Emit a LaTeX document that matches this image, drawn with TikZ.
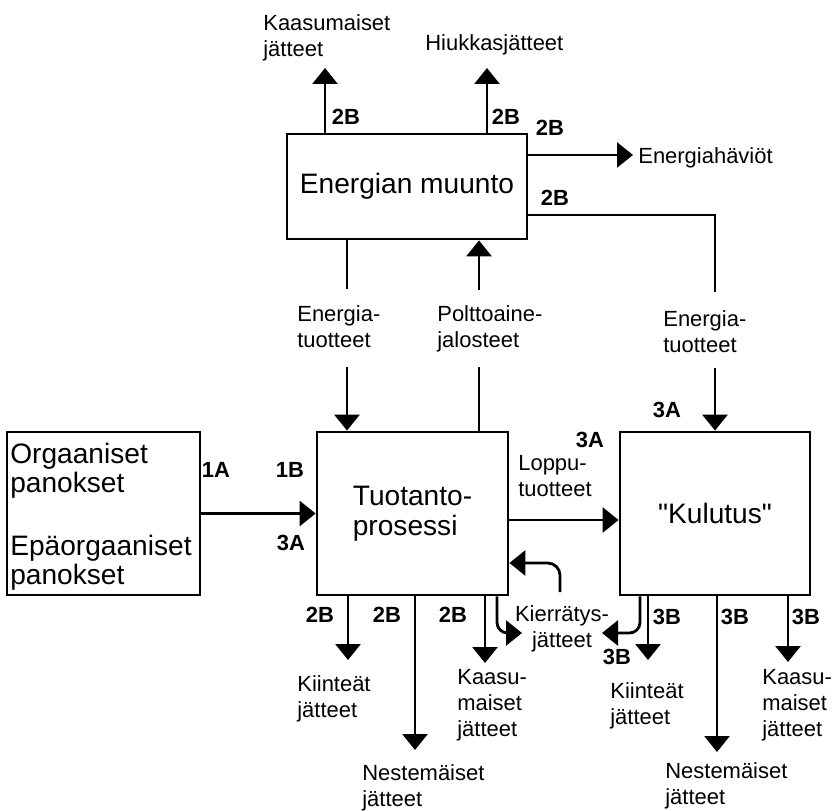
\documentclass[tikz,border=0pt]{standalone}
\usepackage{fontspec}
\setmainfont{Liberation Sans}[Ligatures=TeXOff]
\usetikzlibrary{arrows.meta,positioning}

\tikzset{
  box/.style={draw, line width=1.6pt, inner sep=0pt, align=left, font=\fontsize{16}{17}\selectfont},
  lbl/.style={inner sep=0pt, anchor=north west, align=left, font=\fontsize{12.5}{14.8}\selectfont},
  code/.style={inner sep=0pt, font=\fontsize{12.5}{15}\selectfont\bfseries},
  ln/.style={line width=1.6pt},
  arr/.style={line width=1.6pt, -{Triangle[width=0.5cm,length=0.32cm]}}
}

\begin{document}
\begin{tikzpicture}[x=0.02cm, y=-0.02cm]
    \useasboundingbox (0,0) rectangle (837,810);

    % boxes
    \node[box, minimum width=4.8cm, minimum height=2.1cm] (muunto) at (407,186.5) {Energian muunto};
    \node[box, minimum width=3.86cm, minimum height=3.26cm] (panokset) at (103.5,513.5) {};
    \node[box, minimum width=3.82cm, minimum height=3.26cm] (tuotanto) at (412.5,513.5) {Tuotanto-\\prosessi};
    \node[box, minimum width=3.8cm, minimum height=3.26cm] (kulutus) at (715,513.5) {"Kulutus"};

    \node[lbl, font=\fontsize{16}{16.5}\selectfont] (org) at (10,443) {Orgaaniset\\panokset};
    \node[lbl, font=\fontsize{16}{16.5}\selectfont] (epaorg) at (10,535) {Epäorgaaniset\\panokset};

    % free ends
    \coordinate (kaasu) at (325,68);
    \coordinate (hiukk) at (487,68);
    \coordinate (havio) at (633,155);
    \coordinate (eR0) at (715,215);
    \coordinate (eR1) at (715,292);
    \coordinate (eR2) at (715,368);
    \coordinate (eL1) at (347,289);
    \coordinate (eL2) at (347,367);
    \coordinate (pA) at (479,290);
    \coordinate (pB) at (479,367);
    \coordinate (lp) at (0,520);
    \coordinate (rk) at (560,592);
    \coordinate (rk2) at (560,563);
    \coordinate (kla) at (497,633);
    \coordinate (kl) at (522,633);
    \coordinate (kra) at (640,633);
    \coordinate (kr) at (602,633);

    % energy conversion
    \draw[arr] (muunto.north -| kaasu) -- (kaasu);
    \draw[arr] (muunto.north -| hiukk) -- (hiukk);
    \draw[arr] (muunto.east |- havio) -- (havio);
    \draw[ln] (muunto.east |- eR0) -| (eR1);
    \draw[arr] (eR2) -- (kulutus.north);
    \draw[ln] (muunto.south -| eL1) -- (eL1);
    \draw[arr] (eL2) -- (tuotanto.north -| eL2);
    \draw[ln] (tuotanto.north -| pB) -- (pB);
    \draw[arr] (pA) -- (muunto.south -| pA);

    % main flow
    \draw[arr] (panokset.east) -- (tuotanto.west);
    \draw[arr] (tuotanto.east |- lp) -- (kulutus.west |- lp);

    % recycling
    \draw[arr, rounded corners=7pt] (rk) |- (tuotanto.east |- rk2);
    \draw[arr, rounded corners=6pt] (tuotanto.south -| kla) -- (kla) -- (kl);
    \draw[arr, rounded corners=6pt] (kulutus.south -| kra) -- (kra) -- (kr);

    % wastes
    \foreach \x/\y/\n in {348/660/tk, 415/750/tn, 485/663/tg} {
        \coordinate (\n) at (\x,\y);
        \draw[arr] (tuotanto.south -| \n) -- (\n);
    }
    \foreach \x/\y/\n in {648/660/kk, 717/752/kn, 788/662/kg} {
        \coordinate (\n) at (\x,\y);
        \draw[arr] (kulutus.south -| \n) -- (\n);
    }

    % labels
    \node[lbl] (kaasutxt) at (263,14) {Kaasumaiset\\jätteet};
    \node[lbl] (hiukktxt) at (425,34) {Hiukkasjätteet};
    \node[lbl] (haviotxt) at (638,147) {Energiahäviöt};
    \node[lbl] (etL) at (297,305) {Energia-\\tuotteet};
    \node[lbl] (polt) at (437,305) {Polttoaine-\\jalosteet};
    \node[lbl] (etR) at (663,310) {Energia-\\tuotteet};
    \node[lbl] (loppu) at (518,455) {Loppu-\\tuotteet};
    \node[lbl, anchor=north, align=center] (kierr) at (562,605) {Kierrätys-\\jätteet};
    \node[lbl] (tkt) at (297,675) {Kiinteät\\jätteet};
    \node[lbl] (tnt) at (362,764) {Nestemäiset\\jätteet};
    \node[lbl] (tgt) at (457,669) {Kaasu-\\maiset\\jätteet};
    \node[lbl] (kkt) at (610,682) {Kiinteät\\jätteet};
    \node[lbl] (knt) at (665,762) {Nestemäiset\\jätteet};
    \node[lbl] (kgt) at (762,669) {Kaasu-\\maiset\\jätteet};

    % codes
    \foreach \x/\y/\c in {346/117/2B, 506/117/2B, 550/128/2B, 555/198/2B,
                          667/410/3A, 590/440/3A, 216/470/1A, 290/470/1B, 291/543/3A,
                          320/615/2B, 387/615/2B, 453/615/2B,
                          667/617/3B, 735/617/3B, 806/617/3B, 617/657/3B}
        \node[code] at (\x,\y) {\c};
\end{tikzpicture}
\end{document}
